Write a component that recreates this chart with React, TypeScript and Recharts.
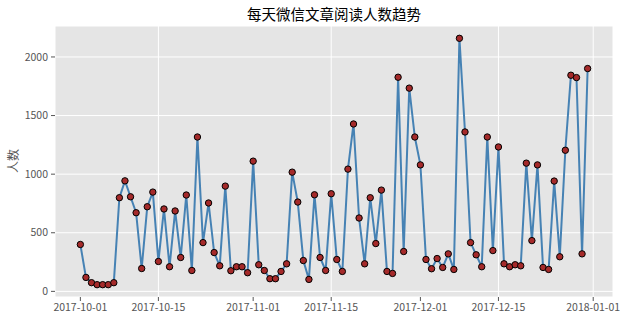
import { LineChart, Line, XAxis, YAxis, CartesianGrid } from "recharts";

// daily reads, one value per day starting at START
const START = "2017-10-01";
const reads = [
  400, 119, 74, 57, 57, 57, 74, 799, 943, 807, 671, 195,
  722, 847, 255, 703, 210, 686, 289, 822, 178, 1317, 416, 754,
  331, 218, 898, 176, 210, 210, 159, 1111, 227, 178, 108, 108,
  170, 235, 1017, 762, 263, 102, 824, 289, 178, 833, 272, 170,
  1043, 1428, 626, 235, 799, 408, 864, 170, 153, 1827, 340, 1734,
  1317, 1079, 272, 193, 280, 204, 320, 187, 2159, 1360, 416, 312,
  210, 1317, 348, 1232, 235, 210, 227, 218, 1094, 433, 1079, 204,
  187, 941, 295, 1204, 1844, 1824, 320, 1901,
];
const xTickDates = [
  "2017-10-01", "2017-10-15", "2017-11-01", "2017-11-15",
  "2017-12-01", "2017-12-15", "2018-01-01",
];
const yTicks = [0, 500, 1000, 1500, 2000];

const TITLE = "每天微信文章阅读人数趋势";
const Y_LABEL = "人数";

const DAY = 86400000;
const dayOf = (d: string) => Math.round((Date.parse(d) - Date.parse(START)) / DAY);
const xTicks = xTickDates.map(dayOf);
const labelByDay: Record<number, string> = {};
xTickDates.forEach((d) => (labelByDay[dayOf(d)] = d));

const data = reads.map((v, i) => ({ day: i, reads: v }));

// matplotlib-like 5% margins
const xSpan = reads.length - 1;
const xDomain = [-0.05 * xSpan, xSpan + 0.05 * xSpan];
const yMin = Math.min(...reads);
const yMax = Math.max(...reads);
const yPad = (yMax - yMin) * 0.05;
const yDomain = [yMin - yPad, yMax + yPad];

const FONT = '"Noto Sans CJK SC", "Noto Sans", sans-serif';
const tickStyle = { fill: "#555555", fontSize: 10.5, fontFamily: FONT };

export default function App() {
  return (
    <div style={{ position: "relative", width: 628, height: 323, background: "#fff" }}>
      <style>{`body{margin:0}`}</style>
      <div
        style={{
          position: "absolute",
          top: 4,
          left: 55,
          width: 558,
          textAlign: "center",
          fontFamily: FONT,
          fontSize: 14.5,
          lineHeight: "20px",
          color: "#000",
        }}
      >
        {TITLE}
      </div>
      <div
        style={{
          position: "absolute",
          left: 12,
          top: 161,
          transform: "translate(-50%, -50%) rotate(-90deg)",
          fontFamily: FONT,
          fontSize: 12,
          color: "#555555",
          whiteSpace: "nowrap",
        }}
      >
        {Y_LABEL}
      </div>
      <LineChart
        width={628}
        height={323}
        data={data}
        margin={{ top: 26, right: 15, bottom: 0, left: 0 }}
      >
        <CartesianGrid fill="#E5E5E5" stroke="#FFFFFF" strokeWidth={1} />
        <XAxis
          dataKey="day"
          type="number"
          domain={xDomain}
          ticks={xTicks}
          allowDataOverflow
          axisLine={false}
          tickLine={{ stroke: "#555555" }}
          tickSize={4}
          tickMargin={3}
          height={26}
          tick={tickStyle}
          tickFormatter={(v: number) => labelByDay[v] ?? ""}
        />
        <YAxis
          type="number"
          domain={yDomain}
          ticks={yTicks}
          allowDataOverflow
          axisLine={false}
          tickLine={{ stroke: "#555555" }}
          tickSize={4}
          tickMargin={3}
          width={55}
          tick={tickStyle}
        />
        <Line
          type="linear"
          dataKey="reads"
          stroke="#4682B4"
          strokeWidth={2}
          dot={{ r: 3.2, fill: "#A52A2A", stroke: "#000000", strokeWidth: 1 }}
          activeDot={false}
          isAnimationActive={false}
        />
      </LineChart>
    </div>
  );
}
